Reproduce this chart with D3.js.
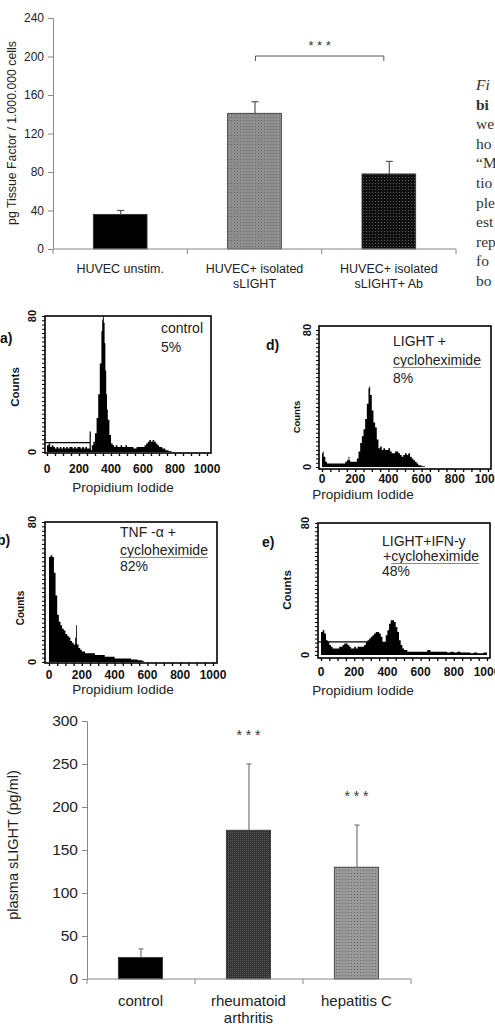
<!DOCTYPE html>
<html>
<head>
<meta charset="utf-8">
<script src="https://cdn.jsdelivr.net/npm/d3@7"></script>
<style>
  body { margin: 0; background: #fff; }
  svg { display: block; font-family: "Liberation Sans", Arial, sans-serif; }
</style>
</head>
<body>
<script>
// top bar chart: tissue factor
var tfCategories = ["HUVEC unstim.", "HUVEC+ isolated|sLIGHT", "HUVEC+ isolated|sLIGHT+ Ab"];
var tfValues = [36, 141, 78];
var tfErrTop = [40, 153, 91];
var tfTicks = [0, 40, 80, 120, 160, 200, 240];

// bottom bar chart: plasma sLIGHT
var slCategories = ["control", "rheumatoid|arthritis", "hepatitis C"];
var slValues = [25, 173, 130];
var slErrTop = [35, 250, 179];
var slTicks = [0, 50, 100, 150, 200, 250, 300];

// histogram panels [channel, counts]
var histA = [[0,4],[10,5],[20,3],[30,4],[40,3],[50,2],[60,3],[70,2],[80,3],[90,2],[100,3],[110,2],[120,3],[130,2],[140,3],[150,3],[160,2],[170,3],[180,2],[190,3],[200,3],[210,2],[220,3],[230,2],[240,3],[250,2],[260,2],[270,1],[280,4],[290,6],[300,11],[310,20],[320,34],[330,52],[340,71],[345,78],[350,82],[355,76],[360,64],[365,48],[370,34],[375,25],[380,19],[390,10],[400,5],[410,4],[420,3],[430,4],[440,3],[450,3],[460,4],[470,3],[480,3],[490,4],[500,3],[520,3],[540,2],[560,3],[580,3],[600,3],[610,4],[620,5],[630,6],[640,7],[650,6],[660,7],[670,6],[680,5],[690,4],[700,3],[720,2],[740,1],[760,0.5],[780,0]];
var histD = [[0,8],[5,9],[10,6],[20,3],[30,2],[40,2],[60,2],[80,2],[100,2],[120,2],[140,3],[150,4],[160,6],[165,4],[170,3],[190,3],[200,3],[210,5],[220,9],[230,14],[240,18],[250,22],[260,28],[270,37],[280,46],[285,47],[290,42],[300,33],[310,26],[320,23],[330,16],[340,11],[350,12],[360,10],[370,11],[380,10],[390,10],[400,11],[410,9],[420,8],[430,8],[440,9],[450,9],[460,8],[470,7],[480,6],[490,7],[500,8],[510,7],[520,8],[530,6],[540,5],[550,4],[560,3],[570,2],[580,1],[600,0.5],[620,0]];
var histB = [[0,60],[10,61],[20,60],[30,51],[40,38],[50,27],[60,23],[70,21],[80,19],[90,18],[100,16],[110,15],[120,14],[130,12],[140,11],[150,10],[160,14],[165,21],[170,10],[180,8],[190,7],[200,6],[220,5],[240,5],[260,5],[280,4],[300,4],[320,4],[340,3],[360,3],[380,3],[400,2],[420,2],[440,2],[460,2],[480,2],[500,1.5],[520,1.5],[540,1],[560,1],[570,0.5],[580,0]];
var histE = [[0,14],[10,15],[20,13],[30,9],[40,8],[50,6],[60,5],[70,4],[80,4],[90,4],[100,4],[110,5],[120,5],[130,6],[140,7],[150,7],[160,6],[170,5],[180,4],[190,4],[200,5],[210,4],[220,5],[230,5],[240,5],[250,5],[260,6],[270,8],[280,9],[290,10],[300,11],[310,12],[320,13],[330,14],[340,14],[350,13],[360,11],[370,8],[380,8],[390,12],[400,15],[410,19],[420,21],[430,21],[440,20],[450,17],[460,14],[470,9],[480,6],[490,4],[500,3],[520,2],[540,2],[560,2],[580,2],[600,2],[620,2],[640,3],[660,2],[680,2],[700,2],[720,2],[740,2],[760,1.5],[780,2],[800,1.5],[820,2],[840,1.5],[860,1.5],[880,1.5],[900,1],[920,1.5],[940,1],[960,1],[980,1.5],[1000,1]];
var histXLabels = [0, 200, 400, 600, 800, 1000];

// caption fragments visible at the right edge
var captionLines = ["Fi", "bi", "we", "ho", "\u201CM", "tio", "ple", "est", "rep", "fo", "bo"];

var svg = d3.select("body").append("svg").attr("width", 495).attr("height", 1028);
svg.append("rect").attr("width", 495).attr("height", 1028).attr("fill", "#fff");

var defs = svg.append("defs");
function makePattern(id, size, base, dot) {
    var p = defs.append("pattern").attr("id", id).attr("width", size).attr("height", size)
        .attr("patternUnits", "userSpaceOnUse");
    p.append("rect").attr("width", size).attr("height", size).attr("fill", base);
    p.append("rect").attr("width", 1).attr("height", 1).attr("fill", dot);
}
makePattern("pGray", 3, "#8e8e8e", "#6e6e6e");
makePattern("pBlackDots", 3, "#111", "#5a5a5a");
makePattern("pDark", 2, "#353535", "#555");
makePattern("pLight", 3, "#999", "#6c6c6c");

function barChart(o) {
    var x = d3.scaleBand().domain(o.categories).range([o.left, o.right]).padding(0);
    var y = d3.scaleLinear().domain([0, o.max]).range([o.bottom, o.top]);
    var g = svg.append("g");
    var step = x.step();

    // bars
    g.selectAll("rect.bar").data(o.values).enter().append("rect")
        .attr("x", function(d, i) { return x(o.categories[i]) + step * o.barOff; })
        .attr("width", step * o.barW)
        .attr("y", function(d) { return y(d); })
        .attr("height", function(d) { return y(0) - y(d); })
        .attr("fill", function(d, i) { return o.fills[i]; })
        .attr("stroke", "#333").attr("stroke-width", 0.8);

    // error bars (upper only)
    o.errTop.forEach(function(e, i) {
        var cx = x(o.categories[i]) + step * (o.barOff + o.barW / 2) + 0.5;
        g.append("line").attr("x1", cx).attr("x2", cx).attr("y1", y(o.values[i])).attr("y2", y(e))
            .attr("stroke", o.errColor).attr("stroke-width", 1.2);
        g.append("line").attr("x1", cx - o.cap).attr("x2", cx + o.cap).attr("y1", y(e)).attr("y2", y(e))
            .attr("stroke", o.errColor).attr("stroke-width", 1.2);
    });

    // y axis
    var ya = g.append("g").attr("transform", "translate(" + o.left + ",0)")
        .call(d3.axisLeft(y).tickValues(o.ticks).tickSize(5).tickPadding(4));
    ya.select(".domain").attr("stroke", "#888");
    ya.selectAll(".tick line").attr("stroke", "#888");
    ya.selectAll(".tick text").attr("font-size", o.tickFont).attr("fill", "#222")
        .attr("font-family", "Liberation Sans, Arial, sans-serif");

    // x axis line + boundary ticks
    g.append("line").attr("x1", o.left).attr("x2", o.right).attr("y1", y(0)).attr("y2", y(0))
        .attr("stroke", "#888").attr("stroke-width", 1.2);
    var bounds = o.categories.map(function(c) { return x(c); }).concat([o.right]);
    g.selectAll("line.bt").data(bounds).enter().append("line")
        .attr("x1", function(d) { return d; }).attr("x2", function(d) { return d; })
        .attr("y1", y(0)).attr("y2", y(0) + 5).attr("stroke", "#888");

    // category labels
    o.categories.forEach(function(c, i) {
        var cx = x(c) + step * (o.barOff + o.barW / 2);
        c.split("|").forEach(function(line, j) {
            g.append("text").attr("x", cx).attr("y", o.labelY + j * o.labelGap)
                .attr("text-anchor", "middle").attr("font-size", o.labelFont)
                .attr("fill", "#222").text(line);
        });
    });

    // y title
    g.append("text").attr("transform", "translate(" + o.titleX + "," + o.titleY + ") rotate(-90)")
        .attr("text-anchor", "middle").attr("font-size", o.titleFont).attr("fill", "#222").text(o.title);
    return { x: x, y: y, g: g };
}

// ---------- top chart ----------
var tfChart = barChart({
    categories: tfCategories, values: tfValues, errTop: tfErrTop, ticks: tfTicks, max: 240,
    left: 53, right: 456, top: 18, bottom: 249, barOff: 0.3, barW: 0.4,
    fills: ["#000", "url(#pGray)", "url(#pBlackDots)"], errColor: "#555", cap: 3.5,
    tickFont: 12, labelFont: 12.5, labelY: 273, labelGap: 15,
    title: "pg Tissue Factor / 1.000.000 cells", titleX: 16, titleY: 133, titleFont: 12.3
});
// significance bracket
var bx1 = tfChart.x(tfCategories[1]) + tfChart.x.step() * 0.5 + 1,
    bx2 = tfChart.x(tfCategories[2]) + tfChart.x.step() * 0.5 - 5;
tfChart.g.append("path").attr("d", "M" + bx1 + "," + 61 + "V56H" + bx2 + "V61")
    .attr("fill", "none").attr("stroke", "#555").attr("stroke-width", 1);
tfChart.g.append("text").attr("x", (bx1 + bx2) / 2).attr("y", 50).attr("text-anchor", "middle")
    .attr("font-size", 13).attr("fill", "#333").text("* * *");

// caption fragment at right edge
var cap = svg.append("g").attr("font-family", "Liberation Serif, Times New Roman, serif").attr("fill", "#333");
captionLines.forEach(function(t, i) {
    cap.append("text").attr("x", 476).attr("y", 90 + i * 19.6).attr("font-size", 15.5)
        .attr("font-style", i === 0 ? "italic" : "normal")
        .attr("font-weight", i === 1 ? "bold" : "normal").text(t);
});

// ---------- histograms ----------
function histogram(p) {
    var x = d3.scaleLinear().domain([0, 1000]).range([p.x0, p.x1]);
    var y = d3.scaleLinear().domain([0, 80]).range([p.y0, p.y80]);
    var g = svg.append("g");

    g.append("path").datum(p.data)
        .attr("d", d3.area().x(function(d) { return x(d[0]); }).y0(y(0))
            .y1(function(d) { return y(Math.min(d[1], 80)); }).curve(d3.curveStepAfter))
        .attr("fill", "#000");

    if (p.gate) {
        g.append("path").attr("d", "M" + p.fl + "," + y(p.gate[1]) + "H" + x(p.gate[0]) +
            (p.gateUp ? "M" + x(p.gate[0]) + "," + y(0) + "V" + y(p.gateUp) : ""))
            .attr("fill", "none").attr("stroke", "#000").attr("stroke-width", 1.2);
    }

    // frame
    g.append("rect").attr("x", p.fl).attr("y", p.ft).attr("width", p.fr - p.fl).attr("height", p.fb - p.ft)
        .attr("fill", "none").attr("stroke", "#000").attr("stroke-width", 1.6);

    // bottom ticks
    var bx = g.append("g").attr("transform", "translate(0," + p.fb + ")")
        .call(d3.axisBottom(x).tickValues(d3.range(0, 1001, 50)).tickSize(3).tickFormat(""));
    bx.select(".domain").remove();
    bx.selectAll(".tick line").attr("stroke", "#000").attr("stroke-width", 1.3);
    // left ticks
    var ly = g.append("g").attr("transform", "translate(" + p.fl + ",0)")
        .call(d3.axisLeft(y).tickValues(d3.range(0, 81, 2.5)).tickSize(3).tickFormat(""));
    ly.select(".domain").remove();
    ly.selectAll(".tick line").attr("stroke", "#000").attr("stroke-width", 1);

    // x labels
    g.selectAll("text.xl").data(histXLabels).enter().append("text")
        .attr("x", function(d) { return x(d); }).attr("y", p.xlY)
        .attr("text-anchor", "middle").attr("font-size", p.tf).attr("font-weight", "bold")
        .attr("fill", "#111").text(function(d) { return d; });
    // y labels (rotated)
    [0, 80].forEach(function(v) {
        g.append("text").attr("transform", "translate(" + p.ylX + "," + y(v) + ") rotate(-90)")
            .attr("text-anchor", "middle").attr("font-size", p.tf - 1).attr("font-weight", "bold")
            .attr("fill", "#111").text(v);
    });
    g.append("text").attr("transform", "translate(" + p.countsX + "," + p.countsY + ") rotate(-90)")
        .attr("text-anchor", "middle").attr("font-size", p.cf).attr("font-weight", "bold")
        .attr("fill", "#111").text("Counts");
    g.append("text").attr("x", p.piX).attr("y", p.piY).attr("text-anchor", "middle")
        .attr("font-size", 13.5).attr("fill", "#222").text("Propidium Iodide");
    g.append("text").attr("x", p.letterX).attr("y", p.letterY).attr("font-size", 14)
        .attr("font-weight", "bold").attr("fill", "#111").text(p.letter);

    // annotation
    p.notes.forEach(function(n) {
        var t = g.append("text").attr("x", n.x).attr("y", n.y).attr("font-size", 14).attr("fill", "#222");
        if (n.under) {
            t.append("tspan").text(n.pre || "");
            t.append("tspan").text(n.under);
            var box = t.node().getBBox();
            var preW = 0;
            if (n.pre) {
                var tmp = g.append("text").attr("font-size", 14).text(n.pre);
                preW = tmp.node().getComputedTextLength();
                tmp.remove();
            }
            g.append("line").attr("x1", n.x + preW).attr("x2", box.x + box.width)
                .attr("y1", n.y + 2.5).attr("y2", n.y + 2.5).attr("stroke", "#888").attr("stroke-width", 1);
        } else {
            t.text(n.t);
        }
    });
}

histogram({
    data: histA, x0: 47, x1: 207, y0: 452, y80: 316, fl: 45, fr: 211, ft: 316, fb: 453,
    gate: [270, 5.5], gateUp: 12, tf: 12, xlY: 473, ylX: 36, countsX: 19, countsY: 387, cf: 11.5,
    piX: 123, piY: 492, letter: "a)", letterX: 0, letterY: 343,
    notes: [{ x: 161, y: 333, t: "control" }, { x: 161, y: 352, t: "5%" }]
});
histogram({
    data: histD, x0: 322, x1: 488, y0: 467, y80: 330, fl: 319, fr: 491, ft: 326, fb: 469,
    tf: 12, xlY: 483, ylX: 311, countsX: 300, countsY: 417, cf: 9.5,
    piX: 363, piY: 499, letter: "d)", letterX: 266, letterY: 350,
    notes: [{ x: 393, y: 346, t: "LIGHT +" }, { x: 393, y: 365, under: "cycloheximide" }, { x: 393, y: 383, t: "8%" }]
});
histogram({
    data: histB, x0: 49, x1: 213, y0: 662, y80: 522, fl: 45, fr: 217, ft: 522, fb: 663,
    tf: 12, xlY: 679, ylX: 36, countsX: 24, countsY: 608, cf: 10,
    piX: 123, piY: 694, letter: "b)", letterX: -3, letterY: 545,
    notes: [{ x: 120, y: 537, t: "TNF  -\u03B1 +" }, { x: 120, y: 555, under: "cycloheximide" }, { x: 120, y: 571, t: "82%" }]
});
histogram({
    data: histE, x0: 321, x1: 487, y0: 655, y80: 523, fl: 318, fr: 490, ft: 523, fb: 658,
    gate: [280, 8], tf: 12, xlY: 676, ylX: 309, countsX: 291, countsY: 590, cf: 11.5,
    piX: 363, piY: 695, letter: "e)", letterX: 262, letterY: 547,
    notes: [{ x: 382, y: 546, t: "LIGHT+IFN-y" }, { x: 383, y: 561, pre: "+", under: "cycloheximide" }, { x: 382, y: 576, t: "48%" }]
});

// ---------- bottom chart ----------
var slChart = barChart({
    categories: slCategories, values: slValues, errTop: slErrTop, ticks: slTicks, max: 300,
    left: 87, right: 411, top: 721, bottom: 979, barOff: 0.29, barW: 0.41,
    fills: ["#000", "url(#pDark)", "url(#pLight)"], errColor: "#777", cap: 2.5,
    tickFont: 15.5, labelFont: 15, labelY: 1006, labelGap: 17,
    title: "plasma sLIGHT (pg/ml)", titleX: 18, titleY: 845, titleFont: 14.5
});
[1, 2].forEach(function(i) {
    var cx = slChart.x(slCategories[i]) + slChart.x.step() * 0.495;
    slChart.g.append("text").attr("x", cx).attr("y", slChart.y(slErrTop[i]) - 24).attr("text-anchor", "middle")
        .attr("font-size", 14).attr("fill", "#333").text("* * *");
});
</script>
</body>
</html>
